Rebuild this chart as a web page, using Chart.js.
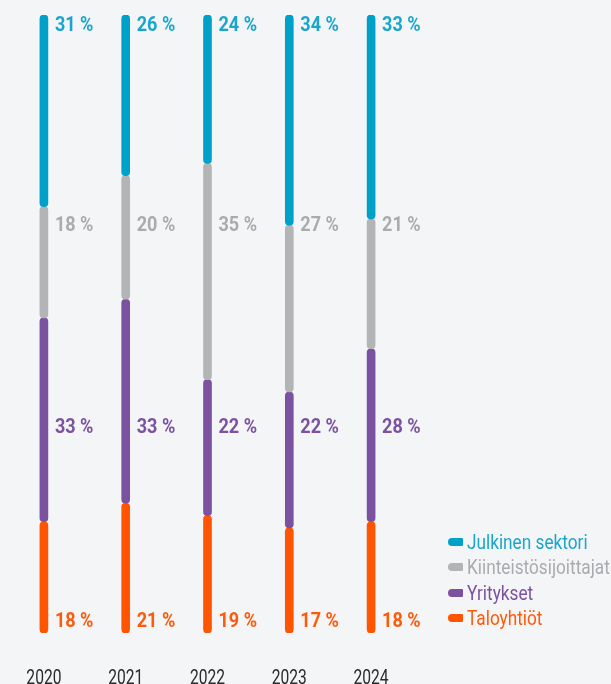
<!DOCTYPE html>
<html>
<head>
<meta charset="utf-8">
<script src="https://cdn.jsdelivr.net/npm/chart.js@4.4.1/dist/chart.umd.min.js"></script>
<style>
  html, body { margin: 0; padding: 0; background: #f4f5f7; overflow: hidden; }
  #wrap { position: relative; width: 611px; height: 700px; }
  #legend { position: absolute; left: 448px; top: 529px; font-family: Roboto, sans-serif; font-size: 21px; }
  .item { display: flex; align-items: center; height: 25.5px; white-space: nowrap; }
  .box { width: 15px; height: 8px; border-radius: 4px 1px 1px 4px; margin-right: 4px; flex: none; }
  .txt { display: inline-block; transform: scaleX(0.82); transform-origin: left center; }
</style>
</head>
<body>
<div id="wrap">
  <canvas id="myChart" width="611" height="700"></canvas>
  <div id="legend"></div>
</div>
<script>
// vuodet ja osuudet (%)
const vuodet = ["2020", "2021", "2022", "2023", "2024"];
const julkinen = [31, 26, 24, 34, 33];
const kiinteisto = [18, 20, 35, 27, 21];
const yritykset = [33, 33, 22, 22, 28];
const taloyhtiot = [18, 21, 19, 17, 18];

const nimet = ["Julkinen sektori", "Kiinteistösijoittajat", "Yritykset", "Taloyhtiöt"];
const sarjat = [julkinen, kiinteisto, yritykset, taloyhtiot];
const varit = ["#00a1c9", "#b3b4b6", "#7b52a0", "#ff5500"];
const tekstivarit = ["#1aa6cc", "#a9abae", "#7b52a0", "#ff5a0a"];
// where the % labels sit on the 0..100 scale
const labelTasot = [1.7, 34.1, 66.8, 98.1];

const fontti = "Roboto, sans-serif";

function kasaa() {
  // floating bars so every segment gets its own rounded ends
  let pohja = vuodet.map(() => 0);
  return sarjat.map((arvot, i) => {
    const data = arvot.map((v, j) => {
      const alku = pohja[j];
      pohja[j] += v;
      return [alku, pohja[j]];
    });
    return {
      label: nimet[i],
      data: data,
      backgroundColor: varit[i],
      borderSkipped: false,
      borderRadius: 4,
      barThickness: 8,
      grouped: false,
    };
  });
}

// the original font is a condensed one, so squeeze the text a bit
function kapeaTeksti(ctx, txt, x, y, kapeus) {
  ctx.save();
  ctx.translate(x, y);
  ctx.scale(kapeus, 1);
  ctx.fillText(txt, 0, 0);
  ctx.restore();
}

const tekstit = {
  id: "tekstit",
  afterDatasetsDraw(chart) {
    const ctx = chart.ctx;
    const y = chart.scales.y;
    const x = chart.scales.x;
    ctx.save();
    ctx.font = "bold 21px " + fontti;
    ctx.textAlign = "left";
    ctx.textBaseline = "middle";
    sarjat.forEach((arvot, i) => {
      const meta = chart.getDatasetMeta(i);
      ctx.fillStyle = tekstivarit[i];
      arvot.forEach((v, j) => {
        kapeaTeksti(ctx, v + " %", meta.data[j].x + 11, y.getPixelForValue(labelTasot[i]), 0.86);
      });
    });
    // vuodet alle
    ctx.font = "20px " + fontti;
    ctx.textAlign = "center";
    ctx.fillStyle = "#2b2b2b";
    vuodet.forEach((v, j) => {
      kapeaTeksti(ctx, v, x.getPixelForValue(j), chart.chartArea.bottom + 46, 0.78);
    });
    ctx.restore();
  },
};

const ctx = document.getElementById("myChart").getContext("2d");
const myChart = new Chart(ctx, {
  type: "bar",
  data: { labels: vuodet, datasets: kasaa() },
  options: {
    responsive: false,
    animation: false,
    layout: { padding: { left: 3, right: 199, top: 15, bottom: 59 } },
    plugins: { legend: { display: false }, tooltip: { enabled: false } },
    scales: {
      x: {
        grid: { display: false },
        border: { display: false },
        ticks: { display: false },
      },
      y: {
        min: 0,
        max: 100,
        reverse: true,
        display: false,
      },
    },
  },
  plugins: [tekstit],
});

// selite
nimet.forEach((n, i) => {
  const rivi = document.createElement("div");
  rivi.className = "item";
  rivi.innerHTML = `<span class="box" style="background:${varit[i]}"></span><span class="txt" style="color:${tekstivarit[i]}">${n}</span>`;
  document.getElementById("legend").appendChild(rivi);
});
</script>
</body>
</html>
